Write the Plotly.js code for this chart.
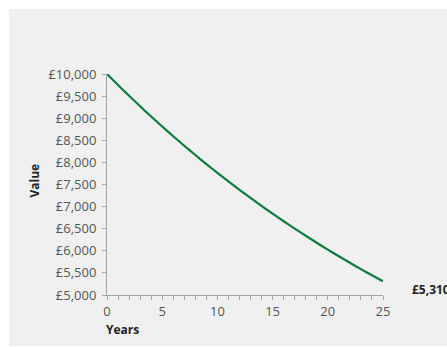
<!DOCTYPE html>
<html>
<head>
<meta charset="utf-8">
<script src="https://cdn.plot.ly/plotly-3.0.1.min.js"></script>
<style>
html,body{margin:0;padding:0;background:#ffffff;width:447px;height:347px;overflow:hidden;}
#chart{position:absolute;left:9px;top:9px;width:438px;height:337px;}
</style>
</head>
<body>
<div id="chart"></div>
<script>
// Years and value
const years = [0,1,2,3,4,5,6,7,8,9,10,11,12,13,14,15,16,17,18,19,20,21,22,23,24,25];
const values = [10000,9750,9506,9269,9037,8811,8591,8376,8167,7962,7763,7569,7380,7195,7015,6840,6669,6502,6340,6181,6027,5876,5729,5586,5446,5310];
const endLabel = '£5,310';
const xTitle = 'Years';
const yTitle = 'Value';

const axisGrey = '#a6a6a6';
const tickFont = {family: 'Open Sans, sans-serif', size: 13, color: '#555555'};

const trace = {
  x: years, y: values, type: 'scatter', mode: 'lines',
  line: {color: '#0b7b3e', width: 2.2, shape: 'spline', smoothing: 0.6},
  hoverinfo: 'skip'
};

const layout = {
  width: 438, height: 337,
  margin: {l: 98, r: 64, t: 65, b: 51, pad: 0},
  paper_bgcolor: '#f0f0f0', plot_bgcolor: '#f0f0f0',
  showlegend: false,
  separators: '.,',
  xaxis: {
    range: [0, 25], dtick: 5, tick0: 0,
    showgrid: false, zeroline: false,
    showline: true, linecolor: axisGrey, linewidth: 1,
    ticks: 'outside', ticklen: 4, tickcolor: axisGrey, tickwidth: 1,
    minor: {dtick: 1, ticks: 'outside', ticklen: 4, tickcolor: axisGrey, tickwidth: 1, showgrid: false},
    tickfont: tickFont, fixedrange: true
  },
  yaxis: {
    range: [5000, 10000], dtick: 500, tick0: 5000,
    showgrid: false, zeroline: false,
    showline: true, linecolor: axisGrey, linewidth: 1,
    ticks: 'outside', ticklen: 4, tickcolor: axisGrey, tickwidth: 1,
    ticklabelstandoff: 3,
    tickprefix: '£', tickformat: ',d',
    tickfont: tickFont, fixedrange: true
  },
  annotations: [
    {text: '<b>' + xTitle + '</b>', xref: 'paper', yref: 'paper', x: 0, y: 0,
     xanchor: 'left', yanchor: 'middle', xshift: -3, yshift: -34, showarrow: false,
     font: {family: 'Open Sans, sans-serif', size: 12, color: '#222222'}},
    {text: '<b>' + yTitle + '</b>', xref: 'paper', yref: 'paper', x: 0, y: 0.5,
     xanchor: 'center', yanchor: 'middle', xshift: -73, yshift: 4, textangle: -90, showarrow: false,
     font: {family: 'Open Sans, sans-serif', size: 12, color: '#222222'}},
    {text: '<b>' + endLabel + '</b>', xref: 'x', yref: 'y', x: years[years.length - 1], y: values[values.length - 1],
     xanchor: 'left', yanchor: 'middle', xshift: 27, yshift: -8, showarrow: false,
     font: {family: 'Open Sans, sans-serif', size: 12, color: '#222222'}}
  ]
};

Plotly.newPlot('chart', [trace], layout, {staticPlot: true, displayModeBar: false});
</script>
</body>
</html>
